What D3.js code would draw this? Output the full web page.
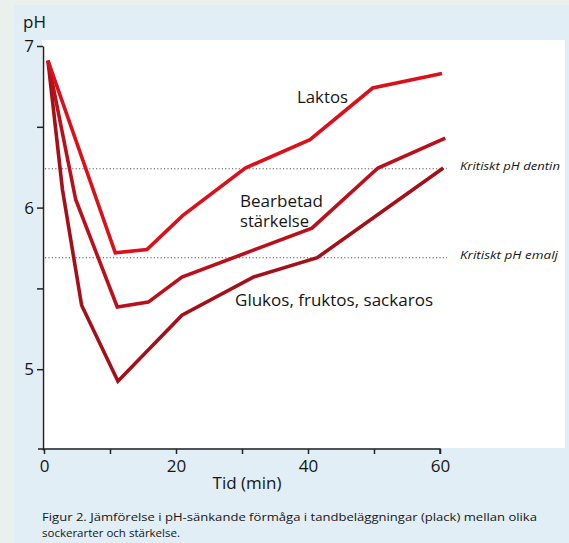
<!DOCTYPE html>
<html>
<head>
<meta charset="utf-8">
<script src="https://cdn.jsdelivr.net/npm/d3@7"></script>
<style>
  html, body { margin: 0; padding: 0; background: #eaf0ec; }
  svg { display: block; }
  text { font-family: "Open Sans", "Noto Sans", sans-serif; fill: #151515; }
</style>
</head>
<body>
<svg id="chart" width="569" height="543"></svg>
<script>
// ---- data ----
const laktosTime  = [0.6, 10.8, 15.6, 21.0, 30.5, 40.3, 49.8, 60.3];
const laktosPH    = [6.91, 5.72, 5.74, 5.95, 6.245, 6.42, 6.74, 6.83];

const starkelseTime = [0.6, 4.8, 11.1, 15.8, 20.9, 40.6, 50.6, 60.8];
const starkelsePH   = [6.91, 6.05, 5.385, 5.415, 5.57, 5.873, 6.245, 6.43];

const glukosTime = [0.6, 2.8, 5.7, 11.2, 20.9, 31.7, 41.4, 60.5];
const glukosPH   = [6.91, 6.11, 5.396, 4.926, 5.334, 5.57, 5.69, 6.245];

const seriesNames = ["Laktos", "Bearbetad stärkelse", "Glukos, fruktos, sackaros"];

const criticalNames  = ["Kritiskt pH dentin", "Kritiskt pH emalj"];
const criticalValues = [6.24, 5.69];

const xTicks = [0, 10, 20, 30, 40, 50, 60];
const xTickLabels = [0, 20, 40, 60];
const yTicks = [5, 5.5, 6, 6.5, 7];
const yTickLabels = [5, 6, 7];

const captionLines = [
  "Figur 2. Jämförelse i pH-sänkande förmåga i tandbeläggningar (plack) mellan olika",
  "sockerarter och stärkelse."
];

// ---- drawing ----
const svg = d3.select("#chart");

// background panels
svg.append("rect").attr("x", 14).attr("y", 5).attr("width", 555).attr("height", 538).attr("fill", "#e1eef5");
svg.append("rect").attr("x", 42).attr("y", 40).attr("width", 523).attr("height", 408).attr("fill", "#ffffff");

const x = d3.scaleLinear().domain([0, 60]).range([44, 440]);
const y = d3.scaleLinear().domain([4.5, 7]).range([450, 46]);

// critical dotted lines
criticalValues.forEach((v, i) => {
  svg.append("line")
    .attr("x1", 45).attr("x2", 447)
    .attr("y1", y(v)).attr("y2", y(v))
    .attr("stroke", "#555").attr("stroke-width", 1.1)
    .attr("stroke-dasharray", "1.2,2.2");
  svg.append("text")
    .attr("x", 460).attr("y", y(v) - 2)
    .attr("font-size", 11.5).attr("font-style", "italic")
    .attr("dominant-baseline", "middle")
    .attr("textLength", i === 0 ? 100 : 98)
    .attr("lengthAdjust", "spacingAndGlyphs")
    .text(criticalNames[i]);
});

// axes
const yAxis = d3.axisLeft(y).tickValues(yTicks)
  .tickFormat(d => yTickLabels.includes(d) ? d3.format("d")(d) : "")
  .tickSize(6).tickSizeOuter(0).tickPadding(3);
const gy = svg.append("g").attr("transform", "translate(43,0)").call(yAxis);
gy.selectAll("text").attr("font-size", 17).style("font-family", "'Open Sans', sans-serif").attr("fill", "#151515");

const xAxis = d3.axisBottom(x).tickValues(xTicks)
  .tickFormat(d => xTickLabels.includes(d) ? d3.format("d")(d) : "")
  .tickSize(5).tickSizeOuter(0).tickPadding(6);
const gx = svg.append("g").attr("transform", "translate(0,449)").call(xAxis);
gx.selectAll("text").attr("font-size", 17).style("font-family", "'Open Sans', sans-serif").attr("fill", "#151515");

[gx, gy].forEach(g => {
  g.selectAll("path, line").attr("stroke", "#222").attr("stroke-width", 1.5);
});
gx.select(".domain").attr("d", "M38,0H440V5");

// axis titles
svg.append("text").attr("x", 23).attr("y", 28).attr("font-size", 17).text("pH");
svg.append("text").attr("x", 247).attr("y", 489).attr("font-size", 17)
  .attr("text-anchor", "middle").text("Tid (min)");

// lines
const line = d3.line().x(d => x(d[0])).y(d => y(d[1]));
const seriesData = [
  { name: seriesNames[0], t: laktosTime, v: laktosPH, color: "#da111b" },
  { name: seriesNames[1], t: starkelseTime, v: starkelsePH, color: "#ba101b" },
  { name: seriesNames[2], t: glukosTime, v: glukosPH, color: "#a41019" }
];
seriesData.slice().reverse().forEach(s => {
  svg.append("path")
    .datum(s.t.map((t, i) => [t, s.v[i]]))
    .attr("d", line)
    .attr("fill", "none")
    .attr("stroke", s.color)
    .attr("stroke-width", 3.6)
    .attr("stroke-linejoin", "miter");
});

// series labels
svg.append("text").attr("x", 297).attr("y", 103).attr("font-size", 17)
  .attr("textLength", 51).attr("lengthAdjust", "spacingAndGlyphs").text("Laktos");
svg.append("text").attr("x", 240).attr("y", 207).attr("font-size", 16)
  .attr("textLength", 83).attr("lengthAdjust", "spacingAndGlyphs").text("Bearbetad");
svg.append("text").attr("x", 240).attr("y", 227).attr("font-size", 16)
  .attr("textLength", 69).attr("lengthAdjust", "spacingAndGlyphs").text("stärkelse");
svg.append("text").attr("x", 235).attr("y", 306).attr("font-size", 17)
  .attr("textLength", 198).attr("lengthAdjust", "spacingAndGlyphs").text("Glukos, fruktos, sackaros");

// caption
svg.append("text").attr("x", 42).attr("y", 521).attr("font-size", 11.5)
  .attr("textLength", 495).attr("lengthAdjust", "spacingAndGlyphs").text(captionLines[0]);
svg.append("text").attr("x", 42).attr("y", 537).attr("font-size", 11.5)
  .text(captionLines[1]);
</script>
</body>
</html>
